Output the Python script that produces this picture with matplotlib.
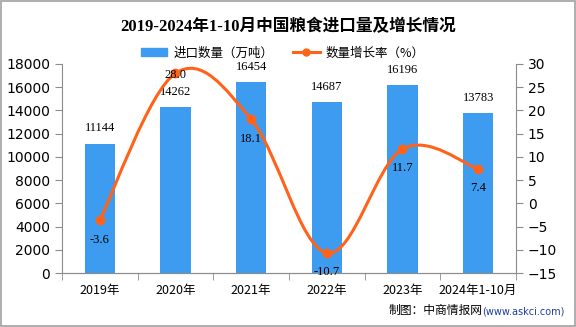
import numpy as np
import matplotlib
matplotlib.use("Agg")
from matplotlib import pyplot as plt
from matplotlib.path import Path
from matplotlib.patches import PathPatch, Patch, Rectangle
from matplotlib.lines import Line2D

# data
categories = ["2019年", "2020年", "2021年", "2022年", "2023年", "2024年1-10月"]
import_volume = [11144, 14262, 16454, 14687, 16196, 13783]   # 万吨
growth_rate = [-3.6, 28.0, 18.1, -10.7, 11.7, 7.4]             # %

CJK = ["Noto Sans CJK SC", "DejaVu Sans"]
SERIF = ["Liberation Serif", "Noto Sans CJK SC"]
bar_color = "#3d9cf0"
line_color = "#ff6219"
axis_grey = "#8c8c8c"

plt.rcParams['font.family'] = CJK

fig = plt.figure(figsize=(5.76, 3.27), dpi=100)
ax = fig.add_axes([0.1076, 0.1651, 0.7882, 0.6392])
ax2 = ax.twinx()

x = np.arange(len(categories))
ax.bar(x, import_volume, width=0.4, color=bar_color, zorder=2)
for xi, v in zip(x, import_volume):
    ax.annotate(str(v), (xi, v), xytext=(0, 11), textcoords="offset points",
                ha="center", va="center", fontsize=9, family=SERIF)

ax.set_xlim(-0.5, len(categories) - 0.5)
ax.set_ylim(0, 18000)
ax.set_yticks(np.arange(0, 18001, 2000))
ax2.set_ylim(-15, 30)
ax2.set_yticks(np.arange(-15, 31, 5))

# smooth line through the growth points (cardinal spline as bezier path)
pts = np.column_stack([x, growth_rate]).astype(float)
verts = [tuple(pts[0])]
codes = [Path.MOVETO]
t = 0.35
for i in range(len(pts) - 1):
    p0 = pts[max(i - 1, 0)]
    p1 = pts[i]
    p2 = pts[i + 1]
    p3 = pts[min(i + 2, len(pts) - 1)]
    c1 = p1 + (p2 - p0) * t * 0.5
    c2 = p2 - (p3 - p1) * t * 0.5
    verts += [tuple(c1), tuple(c2), tuple(p2)]
    codes += [Path.CURVE4, Path.CURVE4, Path.CURVE4]
ax2.add_patch(PathPatch(Path(verts, codes), facecolor="none",
                        edgecolor=line_color, lw=2.2, zorder=3))
ax2.plot(x, growth_rate, "o", color=line_color, ms=6, zorder=4)
for xi, r in zip(x, growth_rate):
    off = -1.5 if r == max(growth_rate) else -14
    ax2.annotate(f"{r:.1f}", (xi, r), xytext=(0, off), textcoords="offset points",
                 ha="center", va="center", fontsize=9, family=SERIF, zorder=5)

# axes styling
for a in (ax, ax2):
    a.spines["top"].set_visible(False)
    for s in ("left", "right", "bottom"):
        a.spines[s].set_color(axis_grey)
    a.tick_params(colors=axis_grey, labelcolor="black", labelsize=10, length=5)
ax2.spines["left"].set_visible(False)
ax.spines["right"].set_visible(False)
for lab in ax.get_yticklabels() + ax2.get_yticklabels():
    lab.set_family(["DejaVu Sans"])
    lab.set_fontsize(10)

ax.set_xticks(x)
ax.set_xticklabels(categories, fontsize=9)
ax.set_xticks(np.arange(-0.5, len(categories), 1), minor=True)
ax.tick_params(axis="x", which="major", length=0, pad=8)
ax.tick_params(axis="x", which="minor", length=5, color=axis_grey)

ax.set_zorder(1)
ax2.set_zorder(2)
ax2.patch.set_visible(False)

fig.text(0.5, 0.917, "2019-2024年1-10月中国粮食进口量及增长情况", ha="center", va="center",
         fontsize=12, fontweight="bold", family=SERIF)

handles = [Patch(color=bar_color),
           Line2D([], [], color=line_color, lw=2.2, marker="o", ms=5)]
fig.legend(handles, ["进口数量（万吨）", "数量增长率（%）"], loc="center",
           bbox_to_anchor=(0.491, 0.838), ncol=2, frameon=False, fontsize=9,
           handlelength=2.1, columnspacing=1.6, handletextpad=0.5)

fig.text(0.837, 0.03, "制图：中商情报网", ha="right", va="bottom", fontsize=8.5)
fig.text(0.837, 0.033, "(www.askci.com)", ha="left", va="bottom", fontsize=7,
         color="#1c3d9c", family=["DejaVu Sans"])

fig.add_artist(Rectangle((0.001, 0.002), 0.997, 0.995, transform=fig.transFigure,
                         fill=False, edgecolor="#a0a0a0", lw=1.2))

fig.savefig("out.png", dpi=100)
